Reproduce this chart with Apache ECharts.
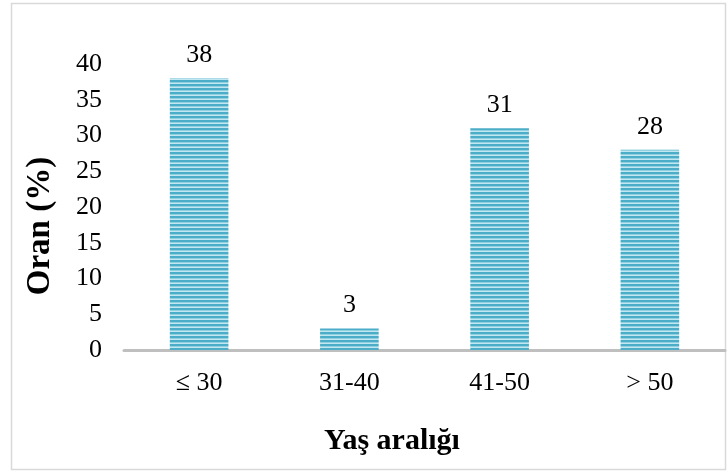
<!DOCTYPE html>
<html><head><meta charset="utf-8">
<script src="https://cdn.jsdelivr.net/npm/echarts@6/dist/echarts.min.js"></script>
<style>html,body{margin:0;padding:0;background:#fff}#c{width:728px;height:475px}</style>
</head><body><div id="c"></div>
<script>
const categories = ['≤ 30', '31-40', '41-50', '> 50'];
const values = [38, 3, 31, 28];
const yTicks = [0, 5, 10, 15, 20, 25, 30, 35, 40];

const pc = document.createElement('canvas');
pc.width = 4; pc.height = 4;
const ctx = pc.getContext('2d');
ctx.fillStyle = '#4badc7'; ctx.fillRect(0, 0, 4, 4);
ctx.fillStyle = '#8fd0e1'; ctx.fillRect(0, 2, 4, 1);
ctx.fillStyle = '#c2e7f0'; ctx.fillRect(0, 3, 4, 1);

const font = '"Liberation Serif", "Times New Roman", serif';
const chart = echarts.init(document.getElementById('c'), null, {renderer: 'canvas'});
chart.setOption({
  animation: false,
  backgroundColor: '#fff',
  graphic: [{type: 'rect', shape: {x: 11.5, y: 3.5, width: 714, height: 466},
    style: {fill: 'none', stroke: '#d9d9d9', lineWidth: 1.5}, z: -1}],
  grid: {left: 124, right: 3, top: 64, bottom: 125},
  xAxis: {
    type: 'category', data: categories,
    axisLine: {lineStyle: {color: '#bfbfbf', width: 3}},
    axisTick: {show: false},
    axisLabel: {color: '#000', fontFamily: font, fontSize: 26, margin: 20},
    name: 'Yaş aralığı', nameLocation: 'middle', nameGap: 76,
    nameTextStyle: {color: '#000', fontFamily: font, fontSize: 30, fontWeight: 'bold', padding: [0, 0, 0, -65]}
  },
  yAxis: {
    type: 'value', min: yTicks[0], max: yTicks[yTicks.length - 1], interval: 5,
    splitLine: {show: false},
    axisLine: {show: false}, axisTick: {show: false},
    axisLabel: {color: '#000', fontFamily: font, fontSize: 26, margin: 22},
    name: 'Oran (%)', nameLocation: 'middle', nameGap: 67, nameRotate: 90,
    nameTextStyle: {color: '#000', fontFamily: font, fontSize: 33, fontWeight: 'bold', padding: [0, 0, 0, -38]}
  },
  series: [{
    type: 'bar', data: values, barWidth: '39%',
    itemStyle: {color: {image: pc, repetition: 'repeat'}},
    label: {show: true, position: 'top', distance: 10, color: '#000', fontFamily: font, fontSize: 26}
  }]
});
</script></body></html>
